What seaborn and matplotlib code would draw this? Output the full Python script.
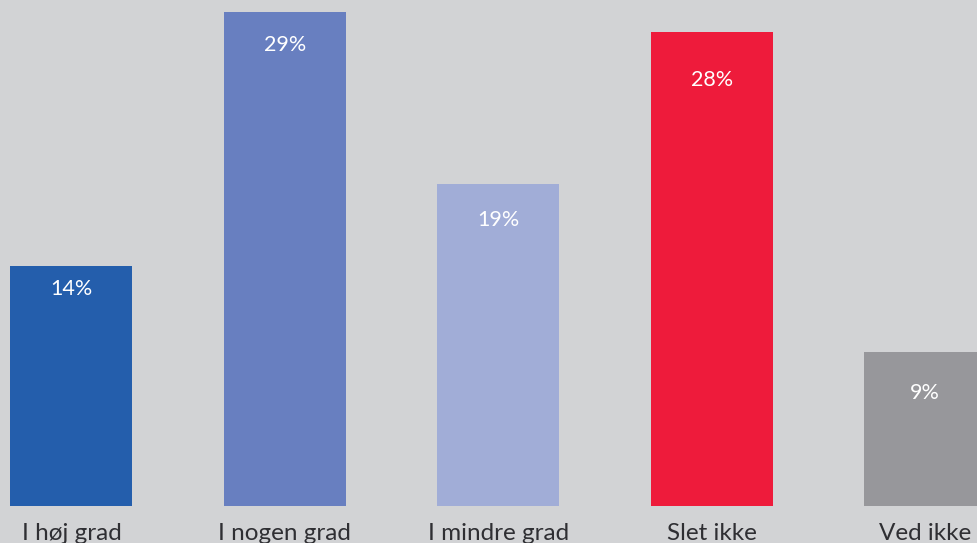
import matplotlib
matplotlib.use("Agg")
import matplotlib.pyplot as plt
import seaborn as sns
import pandas as pd

categories = ["I høj grad", "I nogen grad", "I mindre grad", "Slet ikke", "Ved ikke"]
values = [14.1, 29.0, 18.9, 27.8, 9.0]
value_labels = ["14%", "29%", "19%", "28%", "9%"]

bar_colors = ["#245eac", "#687fc0", "#a1add7", "#ee1b3b", "#97979b"]
label_offsets_px = [23, 33, 36, 48, 41]
bg = "#d2d3d5"

sns.set_theme(style="white")
plt.rcParams["font.family"] = ["Lato", "DejaVu Sans"]

df = pd.DataFrame({"cat": categories, "val": values})

W, H = 977, 543
fig = plt.figure(figsize=(W / 100, H / 100), dpi=100, facecolor=bg)
ax = fig.add_axes([-35.3 / W, 37.5 / H, 1067 / W, 30 * 17.02 / H])
ax.set_facecolor(bg)

sns.barplot(data=df, x="cat", y="val", hue="cat", palette=bar_colors,
            width=0.572, legend=False, ax=ax, saturation=1, linewidth=0)

ax.set_xlim(-0.5, 4.5)
ax.set_ylim(0, 30)
ax.set_xlabel("")
ax.set_ylabel("")
ax.set_yticks([])
for s in ax.spines.values():
    s.set_visible(False)
ax.tick_params(axis="x", length=0, pad=12.5, labelsize=17.5, labelcolor="#2f2f33")

for i, (v, lab) in enumerate(zip(values, value_labels)):
    ax.annotate(lab, xy=(i, v), xytext=(0, -label_offsets_px[i] * 0.72),
                textcoords="offset points", ha="center", va="center",
                color="white", fontsize=15.5)

fig.savefig("out.png", dpi=100, facecolor=bg)
